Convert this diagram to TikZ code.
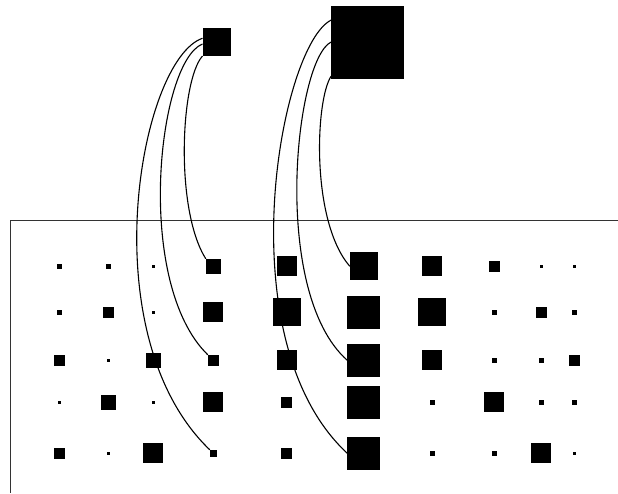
\documentclass[tikz,border=0pt]{standalone}
\usepackage{tikz}

\begin{document}
\begin{tikzpicture}[
        x=1pt,
        y=-1pt,
        cell/.style={fill=black, inner sep=0pt, outer sep=0pt},
        link/.style={line width=1.1pt},
        frame/.style={line width=1pt, black!80}
    ]
        \useasboundingbox (0,0) rectangle (618,493);
        \def\colx{{59.3,108.3,153.3,213.3,286.7,363.8,432,494.3,541.3,574.3}}

        % two source squares
        \node[cell, minimum size=28pt] (top1) at (216.5,42) {};
        \node[cell, minimum size=73pt] (top2) at (367.7,42) {};

        \draw[frame] (618,220) -| (10,493);

        % grid of weights
        \foreach \s [count=\c] in {5,5,3,15,20,28,20,11,3,3}
            \node[cell, minimum size=\s pt] (r1c\c) at ({\colx[\c-1]},266.3) {};
        \foreach \s [count=\c] in {5,11,3,20,28,33,28,5,11,5}
            \node[cell, minimum size=\s pt] (r2c\c) at ({\colx[\c-1]},312.3) {};
        \foreach \s [count=\c] in {11,3,15,11,20,33,20,5,5,11}
            \node[cell, minimum size=\s pt] (r3c\c) at ({\colx[\c-1]},360.3) {};
        \foreach \s [count=\c] in {3,15,3,20,11,33,5,20,5,5}
            \node[cell, minimum size=\s pt] (r4c\c) at ({\colx[\c-1]},402.3) {};
        \foreach \s [count=\c] in {11,3,20,7,11,33,5,5,20,3}
            \node[cell, minimum size=\s pt] (r5c\c) at ({\colx[\c-1]},453.3) {};

        % links from the small square
        \draw[link] (top1.165) .. controls +(-62.7,21.7) and +(-120,-115) .. (r5c4.north west);
        \draw[link] (top1.188) .. controls +(-44.7,18) and +(-74,-72) .. (r3c4.north west);
        \draw[link] (top1.225) .. controls +(-22,24.5) and +(-31,-49) .. (r1c4.north west);

        % links from the large square
        \draw[link] (top2.149) .. controls +(-51,25) and +(-122,-113) .. (r5c6.west);
        \draw[link] (top2.west) .. controls +(-36,17.3) and +(-77,-68) .. (r3c6.west);
        \draw[link] (top2.223) .. controls +(-16,24) and +(-39,-45) .. (r1c6.west);
    \end{tikzpicture}
\end{document}
